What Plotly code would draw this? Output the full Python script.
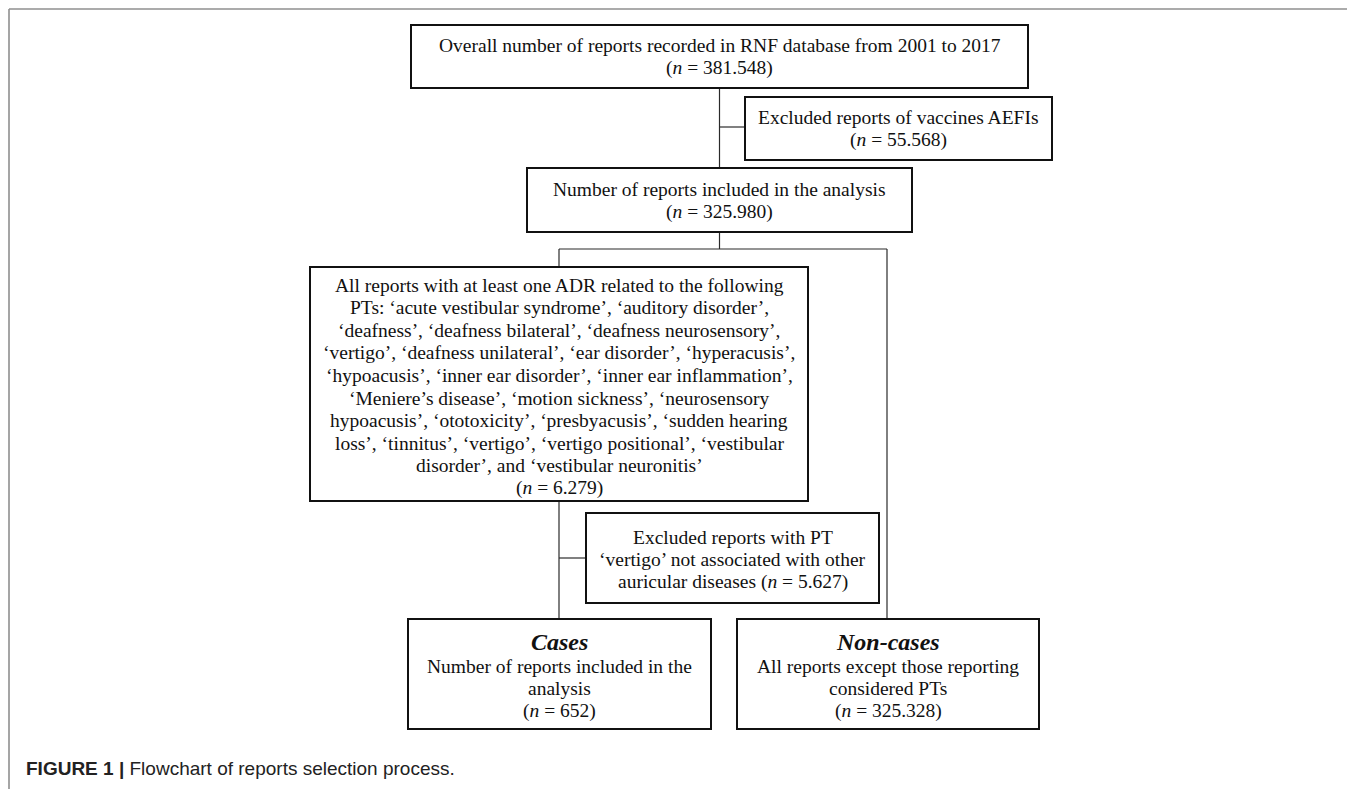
import plotly.graph_objects as go

# ---- data (text & counts) ----
box_lines = [
    ["Overall number of reports recorded in RNF database from 2001 to 2017"],
    ["Excluded reports of vaccines AEFIs"],
    ["Number of reports included in the analysis"],
    ["All reports with at least one ADR related to the following",
     "PTs: ‘acute vestibular syndrome’, ‘auditory disorder’,",
     "‘deafness’, ‘deafness bilateral’, ‘deafness neurosensory’,",
     "‘vertigo’, ‘deafness unilateral’, ‘ear disorder’, ‘hyperacusis’,",
     "‘hypoacusis’, ‘inner ear disorder’, ‘inner ear inflammation’,",
     "‘Meniere’s disease’, ‘motion sickness’, ‘neurosensory",
     "hypoacusis’, ‘ototoxicity’, ‘presbyacusis’, ‘sudden hearing",
     "loss’, ‘tinnitus’, ‘vertigo’, ‘vertigo positional’, ‘vestibular",
     "disorder’, and ‘vestibular neuronitis’"],
    ["Excluded reports with PT", "‘vertigo’ not associated with other", "auricular diseases"],
    ["Number of reports included in the", "analysis"],
    ["All reports except those reporting", "considered PTs"],
]
box_counts = ["381.548", "55.568", "325.980", "6.279", "5.627", "652", "325.328"]
count_inline = [False, False, False, False, True, False, False]
group_headers = ["", "", "", "", "", "Cases", "Non-cases"]
caption_bold = "FIGURE 1 |"
caption_text = "Flowchart of reports selection process."

# ---- layout geometry (pixels in the page) ----
W, H = 1355, 789
OFF = 8  # default html body margin
box_geom = [  # x0, y0, x1, y1, first text line y
    (411, 25, 1028, 88, 45),
    (745, 97, 1052, 160, 117),
    (527, 168, 912, 232, 189),
    (310, 267, 808, 501, 285),
    (586, 513, 879, 603, 537),
    (408, 619, 711, 729, 666),
    (737, 619, 1039, 729, 666),
]
header_y = 642
LS = 22.6  # line spacing
connectors = [
    (719.5, 88, 719.5, 168), (719.5, 127, 745, 127),
    (719.5, 232, 719.5, 249), (559, 249, 887, 249),
    (559, 249, 559, 267), (887, 249, 887, 619),
    (559, 501, 559, 619), (559, 558, 586, 558),
]

SERIF = "Liberation Serif, Times New Roman, serif"
FS = 19.5

shapes = []
annotations = []

# outer frame
for (x0, y0, x1, y1) in [(9, 9, 1354, 9), (9, 9, 9, 800), (1354, 9, 1354, 800)]:
    shapes.append(dict(type="line", x0=x0, y0=y0, x1=x1, y1=y1, xref="x", yref="y",
                       line=dict(color="#8f8f8f", width=1.6)))

for (x0, y0, x1, y1) in connectors:
    shapes.append(dict(type="line", x0=x0, y0=y0, x1=x1, y1=y1, xref="x", yref="y",
                       line=dict(color="#2a2a2a", width=1.2)))

for i, (x0, y0, x1, y1, ty) in enumerate(box_geom):
    shapes.append(dict(type="rect", x0=x0, y0=y0, x1=x1, y1=y1, xref="x", yref="y",
                       line=dict(color="#111", width=2), fillcolor="white"))
    cnt = f"(<i>n</i> = {box_counts[i]})"
    lines = list(box_lines[i])
    if count_inline[i]:
        lines[-1] = lines[-1] + " " + cnt
    else:
        lines.append(cnt)
    for k, ln in enumerate(lines):
        annotations.append(dict(x=(x0 + x1) / 2, y=ty + k * LS, xref="x", yref="y", text=ln,
                                showarrow=False, xanchor="center", yanchor="middle",
                                font=dict(family=SERIF, size=FS, color="#111")))
    if group_headers[i]:
        annotations.append(dict(x=(x0 + x1) / 2, y=header_y, xref="x", yref="y",
                                text=f"<b><i>{group_headers[i]}</i></b>",
                                showarrow=False, xanchor="center", yanchor="middle",
                                font=dict(family=SERIF, size=24, color="#111")))

annotations.append(dict(x=24, y=768, xref="x", yref="y",
                        text=f"<b>{caption_bold}</b> {caption_text}",
                        showarrow=False, xanchor="left", yanchor="middle",
                        font=dict(family="Liberation Sans, Arial, sans-serif", size=19, color="#222")))

fig = go.Figure()
fig.update_layout(
    width=W - OFF, height=H - OFF,
    margin=dict(l=0, r=0, t=0, b=0),
    paper_bgcolor="white", plot_bgcolor="white",
    xaxis=dict(range=[OFF, W], visible=False, fixedrange=True),
    yaxis=dict(range=[H, OFF], visible=False, fixedrange=True),
    shapes=shapes, annotations=annotations, showlegend=False,
)

fig.write_html("out.html", config={"displayModeBar": False})
